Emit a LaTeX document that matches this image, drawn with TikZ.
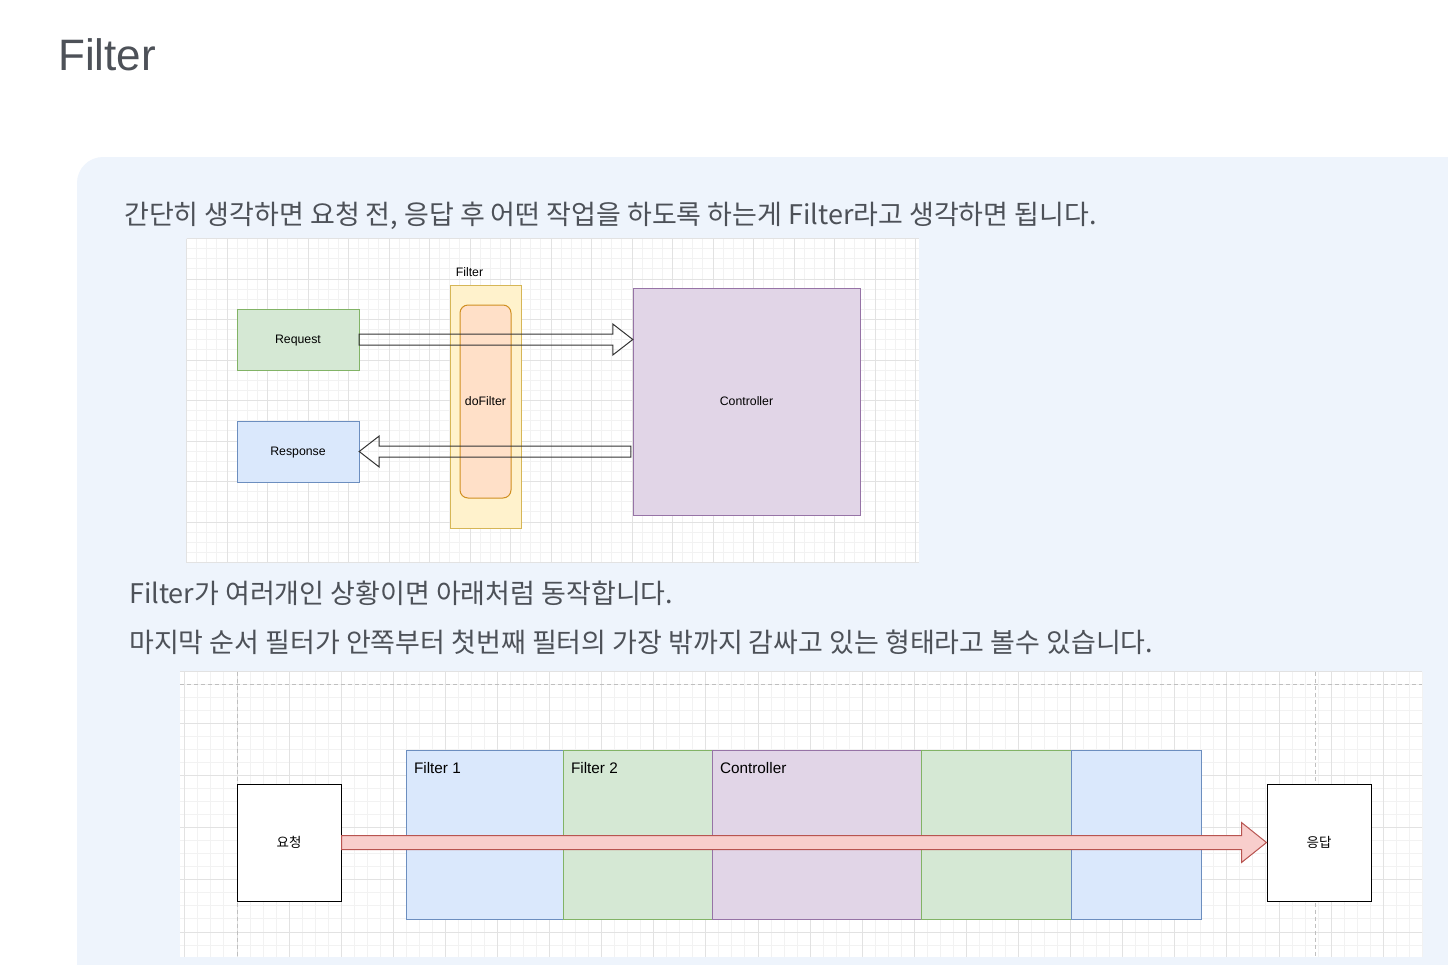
\documentclass[tikz,border=0pt]{standalone}
\usepackage{fontspec}
\setmainfont{Liberation Sans}
\newfontfamily\kr{Noto Sans CJK KR}
\usetikzlibrary{calc}

\definecolor{panel}{HTML}{EEF4FC}
\definecolor{ink}{HTML}{4D5158}
\definecolor{gridminor}{HTML}{F2F2F2}
\definecolor{gridmajor}{HTML}{E2E2E2}
\definecolor{greenfill}{HTML}{D5E8D4}
\definecolor{greenline}{HTML}{82B366}
\definecolor{bluefill}{HTML}{DAE8FC}
\definecolor{blueline}{HTML}{6C8EBF}
\definecolor{yellowfill}{HTML}{FFF2CC}
\definecolor{yellowline}{HTML}{D6B656}
\definecolor{orangefill}{HTML}{FFE0C8}
\definecolor{orangeline}{HTML}{D08F20}
\definecolor{purplefill}{HTML}{E1D5E7}
\definecolor{purpleline}{HTML}{9673A6}
\definecolor{redfill}{HTML}{F8CECC}
\definecolor{redline}{HTML}{B85450}

\begin{document}
\begin{tikzpicture}[x=1pt, y=-1pt,
    minorline/.style ={draw=gridminor, line width=1pt},
    majorline/.style ={draw=gridmajor, line width=1pt},
    guideline/.style ={draw=black!25, line width=1pt, dash pattern=on 4pt off 3pt},
    small/.style ={font=\fontsize{12.3}{14}\selectfont},
    request/.style ={draw=greenline, fill=greenfill, minimum width=122pt, minimum height=61pt, small, text depth=1pt},
    response/.style ={draw=blueline, fill=bluefill, minimum width=122pt, minimum height=61pt, small, text depth=1pt},
    filterbox/.style ={draw=yellowline, fill=yellowfill, minimum width=71pt, minimum height=243pt},
    dofilter/.style ={draw=orangeline, fill=orangefill, line width=1pt, rounded corners=8pt, minimum width=51pt, minimum height=193pt, small, text depth=1pt},
    controller/.style ={draw=purpleline, fill=purplefill, minimum width=227pt, minimum height=227pt, small, text depth=1pt},
    flexarrow/.style ={draw=black!80, line width=1pt, line join=miter},
    endbox/.style ={draw=black, fill=white, line width=1pt, minimum width=104pt, minimum height=117pt, font=\kr\fontsize{13.5}{15}\selectfont},
    layer/.style ={line width=1pt, minimum height=169pt, inner sep=0pt,
      label={[anchor=north west, xshift=5pt, yshift=-9pt, font=\fontsize{15.3}{17}\selectfont]north west:#1}},
    redarrow/.style ={draw=redline, fill=redfill, line width=1pt, line join=miter},
    body/.style ={anchor=west, text=ink, font=\kr\fontsize{27}{32}\selectfont, inner sep=0pt}]

   % page
   \useasboundingbox (0,0) rectangle (1448,964);
   \fill[white] (0,0) rectangle (1448,964);
   \fill[panel, rounded corners=26pt] (77,157) rectangle (1500,1020);
   \node[anchor=base west, text=ink, inner sep=0pt, font=\fontsize{44}{50}\selectfont] (title) at (58,70) {Filter};

   \node[body] (line1) at (124,216) {간단히 생각하면 요청 전, 응답 후 어떤 작업을 하도록 하는게 Filter라고 생각하면 됩니다.};
   \node[body] (line2) at (129,593) {Filter가 여러개인 상황이면 아래처럼 동작합니다.};
   \node[body] (line3) at (129,642) {마지막 순서 필터가 안쪽부터 첫번째 필터의 가장 밖까지 감싸고 있는 형태라고 볼수 있습니다.};

   % first sketch: grid
   \fill[white] (186.5,238.5) rectangle (918.5,562.5);
   \foreach \i in {0,...,72} \draw[minorline] ({186.5+10.125*\i},238.5) -- ({186.5+10.125*\i},562.5);
   \foreach \j in {0,...,32} \draw[minorline] (186.5,{238.5+10.125*\j}) -- (918.5,{238.5+10.125*\j});
   \foreach \i in {0,...,18} \draw[majorline] ({186.5+40.5*\i},238.5) -- ({186.5+40.5*\i},562.5);
   \foreach \j in {0,...,8} \draw[majorline] (186.5,{238.5+40.5*\j}) -- (918.5,{238.5+40.5*\j});

   % first sketch: boxes
   \node[request] (req) at (298,339.5) {Request};
   \node[response] (res) at (298,451.5) {Response};
   \node[filterbox] (filter) at (485.5,406.5) {};
   \node[small, anchor=south] (filterlabel) at (469.5,280) {Filter};
   \node[dofilter] (dofilter) at (485.5,401.5) {doFilter};
   \node[controller] (ctrl) at (746.5,401.5) {Controller};

   \draw[flexarrow] ($(req.east)+(0,-5.5)$) -- ($(ctrl.west|-req.east)+(-20,-5.5)$) -- ++(0,-10)
      -- (ctrl.west|-req.east) -- ++(-20,15.5) -- ++(0,-10) -- ($(req.east)+(0,5.5)$) -- cycle;
   \draw[flexarrow] (res.east) -- ++(20,-15.5) -- ++(0,10) -- ($(ctrl.west|-res.east)+(-2,-5.5)$)
      -- ++(0,11) -- ($(res.east)+(20,5.5)$) -- ++(0,10) -- cycle;

   % second sketch: grid
   \fill[white] (180,671.5) rectangle (1422,956.5);
   \foreach \i in {0,...,95} \draw[minorline] ({184.9+13.025*\i},671.5) -- ({184.9+13.025*\i},956.5);
   \foreach \j in {0,...,21} \draw[minorline] (180,{671.5+13.025*\j}) -- (1422,{671.5+13.025*\j});
   \foreach \i in {0,...,23} \draw[majorline] ({184.9+52.1*\i},671.5) -- ({184.9+52.1*\i},956.5);
   \foreach \j in {0,...,5} \draw[majorline] (180,{671.5+52.1*\j}) -- (1422,{671.5+52.1*\j});
   \draw[guideline] (180,684.5) -- (1422,684.5);
   \draw[guideline] (237,671.5) -- (237,956.5);
   \draw[guideline] (1315,671.5) -- (1315,956.5);

   % second sketch: layers
   \node[endbox] (ask) at (289,842.5) {요청};
   \node[endbox] (reply) at (1319,842.5) {응답};
   \node[layer=Filter 1, draw=blueline, fill=bluefill, minimum width=157pt] (f1) at (484.5,834.5) {};
   \node[layer=Filter 2, draw=greenline, fill=greenfill, minimum width=149pt] (f2) at (637.5,834.5) {};
   \node[layer=Controller, draw=purpleline, fill=purplefill, minimum width=209pt] (c) at (816.5,834.5) {};
   \node[layer=, draw=greenline, fill=greenfill, minimum width=150pt] (f2back) at (996,834.5) {};
   \node[layer=, draw=blueline, fill=bluefill, minimum width=130pt] (f1back) at (1136,834.5) {};

   \draw[redarrow] ($(ask.east)+(0,-7)$) -- ($(reply.west)+(-25,-7)$) -- ++(0,-13) -- (reply.west)
      -- ++(-25,20) -- ++(0,-13) -- ($(ask.east)+(0,7)$) -- cycle;
\end{tikzpicture}
\end{document}
